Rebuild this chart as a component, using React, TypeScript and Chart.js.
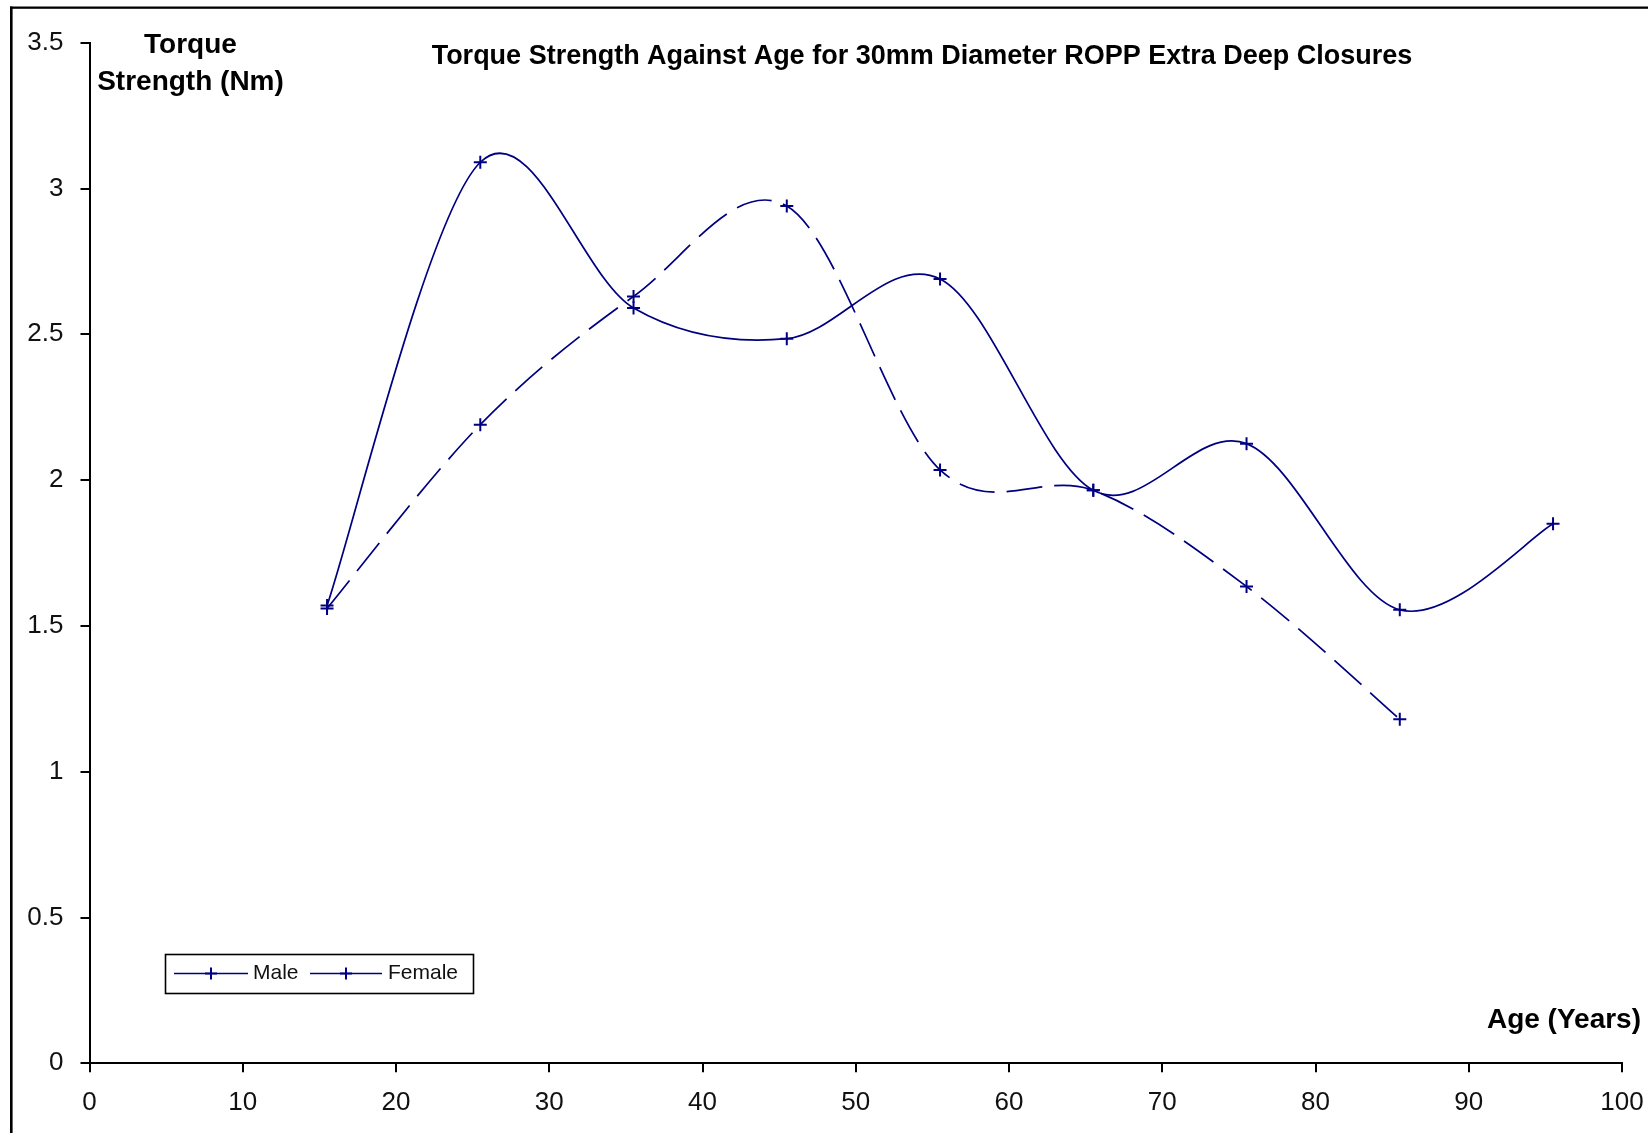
import React, { useEffect, useRef } from "react";
import { Chart, registerables } from "chart.js";

Chart.register(...registerables);

// ---- data ----
const ages = [15.5, 25.5, 35.5, 45.5, 55.5, 65.5, 75.5, 85.5, 95.5];
const maleTorque = [1.57, 3.09, 2.59, 2.485, 2.69, 1.965, 2.125, 1.555, 1.85];
const femaleTorque = [1.56, 2.19, 2.63, 2.94, 2.035, 1.965, 1.635, 1.18];
const seriesNames = ["Male", "Female"];
const xTickValues = [0, 10, 20, 30, 40, 50, 60, 70, 80, 90, 100];
const yTickValues = [0, 0.5, 1, 1.5, 2, 2.5, 3, 3.5];
const chartTitle = "Torque Strength Against Age for 30mm Diameter ROPP Extra Deep Closures";
const yTitleLines = ["Torque", "Strength (Nm)"];
const xTitle = "Age (Years)";

const W = 1648;
const H = 1133;
const NAVY = "#000080";
const FONT = '"Liberation Sans", Arial, Helvetica, sans-serif';

function drawCross(ctx: CanvasRenderingContext2D, x: number, y: number, r: number) {
  ctx.beginPath();
  ctx.moveTo(x - r, y);
  ctx.lineTo(x + r, y);
  ctx.moveTo(x, y - r);
  ctx.lineTo(x, y + r);
  ctx.stroke();
}

// Excel-style smoothing: uniform Catmull-Rom control points (1/6 of neighbour span),
// computed from the library's own point pixels.
const excelSmoothPlugin = {
  id: "excelSmooth",
  beforeDatasetDraw(chart: any, args: any) {
    const meta = args.meta;
    const line = meta.dataset;
    if (!line) return;
    line.updateControlPoints(chart.chartArea, meta.iScale.axis);
    const pts = meta.data;
    const n = pts.length;
    for (let i = 0; i < n; i++) {
      const cur = pts[i];
      const prev = pts[Math.max(0, i - 1)];
      const next = pts[Math.min(n - 1, i + 1)];
      const dx = (next.x - prev.x) / 6;
      const dy = (next.y - prev.y) / 6;
      cur.cp1x = cur.x - dx;
      cur.cp1y = cur.y - dy;
      cur.cp2x = cur.x + dx;
      cur.cp2y = cur.y + dy;
    }
    line._path = undefined;
  },
};

const decorPlugin = {
  id: "decor",
  afterDraw(chart: any) {
    const ctx: CanvasRenderingContext2D = chart.ctx;
    ctx.save();
    // outer chart border (left and top visible)
    ctx.fillStyle = "#000";
    ctx.fillRect(10, 6.5, 2.6, H);
    ctx.fillRect(10, 6.5, W, 2.3);

    // title
    ctx.fillStyle = "#000";
    ctx.textAlign = "center";
    ctx.textBaseline = "middle";
    ctx.font = `bold 27px ${FONT}`;
    ctx.fillText(chartTitle, 922, 57);

    // y axis title
    ctx.font = `bold 28px ${FONT}`;
    ctx.fillText(yTitleLines[0], 190.5, 45);
    ctx.fillText(yTitleLines[1], 190.5, 82);

    // x axis title
    ctx.textAlign = "right";
    ctx.fillText(xTitle, 1641, 1020);

    // legend
    ctx.lineWidth = 1.6;
    ctx.strokeStyle = "#000";
    ctx.strokeRect(165.5, 954.5, 308, 39);
    const ly = 973.5;
    const samples = [
      { x0: 174, x1: 248, tx: 253 },
      { x0: 310, x1: 382, tx: 388 },
    ];
    ctx.font = `21px ${FONT}`;
    ctx.textAlign = "left";
    samples.forEach((s, i) => {
      ctx.strokeStyle = NAVY;
      ctx.lineWidth = 1.6;
      ctx.beginPath();
      ctx.moveTo(s.x0, ly);
      ctx.lineTo(s.x1, ly);
      ctx.stroke();
      ctx.lineWidth = 2;
      drawCross(ctx, (s.x0 + s.x1) / 2, ly, 6);
      ctx.fillStyle = "#111";
      ctx.fillText(seriesNames[i], s.tx, ly);
    });
    ctx.restore();
  },
};

export default function App() {
  const canvasRef = useRef<HTMLCanvasElement | null>(null);

  useEffect(() => {
    const canvas = canvasRef.current;
    if (!canvas) return;
    const maleData = ages.map((a, i) => ({ x: a, y: maleTorque[i] }));
    const femaleData = femaleTorque.map((v, i) => ({ x: ages[i], y: v }));

    const common = {
      borderColor: NAVY,
      borderWidth: 1.7,
      tension: 0.3,
      fill: false,
      pointStyle: "cross",
      pointRadius: 6.5,
      pointBorderWidth: 2,
      pointBorderColor: NAVY,
      pointBackgroundColor: NAVY,
    };

    const chart = new Chart(canvas, {
      type: "line",
      data: {
        datasets: [
          { label: seriesNames[0], data: maleData, ...common },
          { label: seriesNames[1], data: femaleData, borderDash: [36, 12], ...common },
        ],
      },
      options: {
        responsive: false,
        devicePixelRatio: 1,
        animation: false,
        layout: { padding: { left: 0, top: 42.7, right: 26, bottom: 0 } },
        plugins: {
          legend: { display: false },
          title: { display: false },
          tooltip: { enabled: false },
        },
        scales: {
          x: {
            type: "linear",
            min: 0,
            max: 100,
            afterBuildTicks: (scale: any) => {
              scale.ticks = xTickValues.map((v) => ({ value: v }));
            },
            afterFit: (scale: any) => {
              scale.height = H - 1063.3;
              scale.paddingLeft = 0;
              scale.paddingRight = 0;
            },
            ticks: {
              color: "#111",
              font: { family: FONT, size: 26 },
              padding: 15,
              maxRotation: 0,
              autoSkip: false,
              callback: (v: any) => String(v),
            },
            grid: {
              display: true,
              drawOnChartArea: false,
              drawTicks: true,
              tickLength: 9,
              lineWidth: 2,
              color: "#000",
            },
            border: { display: true, color: "#000", width: 2 },
          },
          y: {
            type: "linear",
            min: 0,
            max: 3.5,
            afterBuildTicks: (scale: any) => {
              scale.ticks = yTickValues.map((v) => ({ value: v }));
            },
            afterFit: (scale: any) => {
              scale.width = 89.5;
              scale.paddingTop = 0;
              scale.paddingBottom = 0;
            },
            ticks: {
              color: "#111",
              font: { family: FONT, size: 26 },
              padding: 17,
              autoSkip: false,
              callback: (v: any) => String(v),
            },
            grid: {
              display: true,
              drawOnChartArea: false,
              drawTicks: true,
              tickLength: 9,
              lineWidth: 2,
              color: "#000",
            },
            border: { display: true, color: "#000", width: 2 },
          },
        },
      },
      plugins: [excelSmoothPlugin, decorPlugin],
    } as any);

    return () => {
      chart.destroy();
    };
  }, []);

  return (
    <div
      style={{
        position: "fixed",
        left: 0,
        top: 0,
        width: W,
        height: H,
        background: "#fff",
        overflow: "hidden",
      }}
    >
      <canvas ref={canvasRef} width={W} height={H} style={{ display: "block", width: W, height: H }} />
    </div>
  );
}
